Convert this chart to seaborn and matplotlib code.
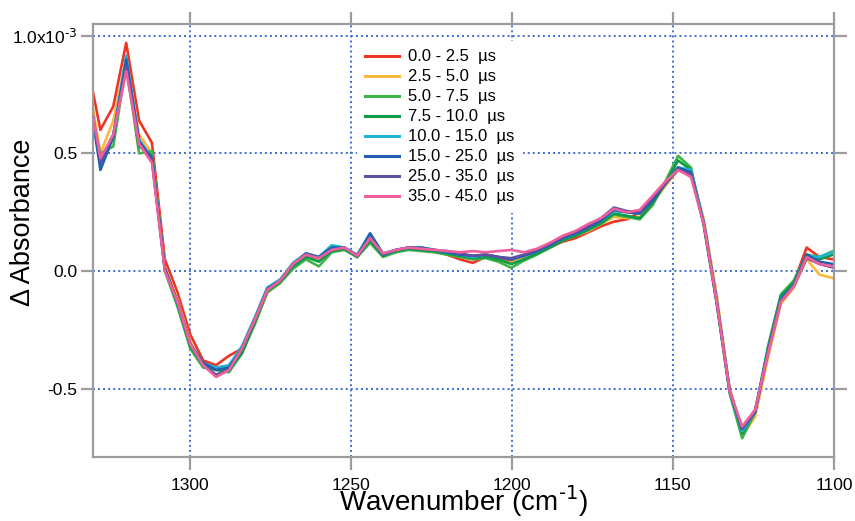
import numpy as np
import pandas as pd
import matplotlib
matplotlib.use("Agg")
import matplotlib.pyplot as plt
import seaborn as sns

plt.rcParams['font.family'] = ['Liberation Sans', 'DejaVu Sans']
plt.rcParams['mathtext.default'] = 'regular'

# ---- data (ΔAbsorbance in units of 1e-3) ----
wavenumber = [1330.0, 1327.7, 1323.7, 1319.7, 1315.7, 1311.7, 1307.7, 1303.8, 1299.8, 1295.8,
              1291.8, 1287.8, 1283.8, 1279.9, 1275.9, 1271.9, 1267.9, 1263.9, 1259.9, 1255.9,
              1252.0, 1248.0, 1244.0, 1240.0, 1236.0, 1232.0, 1228.1, 1224.1, 1220.1, 1216.1,
              1212.1, 1208.1, 1204.2, 1200.2, 1196.2, 1192.2, 1188.2, 1184.2, 1180.3, 1176.3,
              1172.3, 1168.3, 1164.3, 1160.3, 1156.3, 1152.4, 1148.4, 1144.4, 1140.4, 1136.4,
              1132.4, 1128.5, 1124.5, 1120.5, 1116.5, 1112.5, 1108.5, 1104.5, 1100.3]

labels = ["0.0 - 2.5  µs", "2.5 - 5.0  µs", "5.0 - 7.5  µs", "7.5 - 10.0  µs",
          "10.0 - 15.0  µs", "15.0 - 25.0  µs", "25.0 - 35.0  µs", "35.0 - 45.0  µs"]
colors = ["#ee3524", "#fdb93d", "#3cb44a", "#0f9a48", "#1fb5d8", "#2160ae", "#5e4fa2", "#ee5f9b"]

s_0_2p5 = [0.76, 0.60, 0.70, 0.97, 0.64, 0.545, 0.05, -0.09, -0.27, -0.38,
           -0.40, -0.36, -0.33, -0.22, -0.09, -0.05, 0.02, 0.06, 0.05, 0.09,
           0.10, 0.06, 0.13, 0.07, 0.08, 0.10, 0.09, 0.085, 0.07, 0.05,
           0.035, 0.06, 0.05, 0.04, 0.055, 0.075, 0.10, 0.125, 0.14, 0.165,
           0.19, 0.21, 0.22, 0.25, 0.30, 0.37, 0.44, 0.42, 0.20, -0.13,
           -0.50, -0.68, -0.61, -0.35, -0.12, -0.05, 0.10, 0.06, 0.05]
s_2p5_5 = [0.69, 0.50, 0.64, 0.90, 0.58, 0.50, 0.02, -0.12, -0.30, -0.40,
           -0.41, -0.42, -0.34, -0.23, -0.09, -0.045, 0.03, 0.065, 0.05, 0.085,
           0.095, 0.06, 0.13, 0.065, 0.085, 0.095, 0.09, 0.085, 0.075, 0.065,
           0.05, 0.06, 0.045, 0.035, 0.055, 0.075, 0.10, 0.13, 0.15, 0.17,
           0.20, 0.23, 0.225, 0.23, 0.29, 0.36, 0.43, 0.41, 0.22, -0.10,
           -0.50, -0.70, -0.62, -0.37, -0.14, -0.07, 0.05, -0.015, -0.03]
s_5_7p5 = [0.63, 0.50, 0.53, 0.88, 0.50, 0.51, 0.00, -0.15, -0.33, -0.41,
           -0.42, -0.43, -0.35, -0.23, -0.09, -0.05, 0.01, 0.05, 0.02, 0.08,
           0.09, 0.06, 0.12, 0.06, 0.08, 0.09, 0.085, 0.08, 0.07, 0.06,
           0.05, 0.055, 0.04, 0.014, 0.045, 0.07, 0.10, 0.13, 0.15, 0.175,
           0.20, 0.24, 0.23, 0.22, 0.28, 0.38, 0.49, 0.44, 0.19, -0.14,
           -0.52, -0.71, -0.60, -0.32, -0.10, -0.04, 0.07, 0.06, 0.085]
s_7p5_10 = [0.65, 0.46, 0.57, 0.88, 0.53, 0.49, 0.01, -0.14, -0.32, -0.40,
            -0.42, -0.42, -0.35, -0.22, -0.08, -0.045, 0.02, 0.06, 0.04, 0.085,
            0.095, 0.06, 0.13, 0.065, 0.085, 0.095, 0.09, 0.085, 0.075, 0.065,
            0.055, 0.06, 0.05, 0.03, 0.05, 0.075, 0.10, 0.13, 0.15, 0.175,
            0.205, 0.245, 0.235, 0.225, 0.29, 0.37, 0.47, 0.43, 0.20, -0.13,
            -0.51, -0.69, -0.60, -0.33, -0.105, -0.05, 0.07, 0.05, 0.07]
s_10_15 = [0.64, 0.46, 0.58, 0.915, 0.56, 0.48, 0.01, -0.13, -0.31, -0.39,
           -0.41, -0.40, -0.32, -0.20, -0.07, -0.035, 0.035, 0.075, 0.06, 0.11,
           0.10, 0.07, 0.16, 0.07, 0.09, 0.10, 0.10, 0.09, 0.08, 0.07,
           0.06, 0.07, 0.06, 0.05, 0.065, 0.085, 0.11, 0.14, 0.16, 0.185,
           0.215, 0.255, 0.25, 0.245, 0.31, 0.37, 0.44, 0.43, 0.21, -0.12,
           -0.51, -0.68, -0.60, -0.34, -0.12, -0.06, 0.065, 0.06, 0.08]
s_15_25 = [0.64, 0.43, 0.57, 0.90, 0.55, 0.48, 0.01, -0.13, -0.31, -0.39,
           -0.42, -0.41, -0.33, -0.21, -0.075, -0.04, 0.03, 0.075, 0.06, 0.10,
           0.10, 0.065, 0.16, 0.075, 0.09, 0.10, 0.10, 0.09, 0.08, 0.07,
           0.065, 0.07, 0.06, 0.05, 0.065, 0.085, 0.11, 0.14, 0.16, 0.185,
           0.215, 0.26, 0.25, 0.245, 0.30, 0.37, 0.44, 0.42, 0.20, -0.13,
           -0.51, -0.67, -0.59, -0.34, -0.12, -0.06, 0.07, 0.04, 0.03]
s_25_35 = [0.66, 0.46, 0.58, 0.87, 0.55, 0.47, 0.01, -0.13, -0.31, -0.40,
           -0.44, -0.42, -0.33, -0.21, -0.08, -0.04, 0.03, 0.07, 0.055, 0.09,
           0.10, 0.065, 0.14, 0.07, 0.09, 0.10, 0.095, 0.09, 0.085, 0.075,
           0.065, 0.07, 0.06, 0.055, 0.07, 0.09, 0.115, 0.145, 0.165, 0.19,
           0.225, 0.27, 0.255, 0.25, 0.31, 0.37, 0.43, 0.41, 0.20, -0.13,
           -0.51, -0.67, -0.60, -0.35, -0.13, -0.065, 0.055, 0.03, 0.015]
s_35_45 = [0.66, 0.48, 0.58, 0.85, 0.54, 0.46, 0.00, -0.13, -0.31, -0.40,
           -0.45, -0.42, -0.33, -0.21, -0.08, -0.04, 0.03, 0.07, 0.055, 0.09,
           0.10, 0.065, 0.14, 0.075, 0.09, 0.10, 0.095, 0.09, 0.085, 0.08,
           0.085, 0.08, 0.085, 0.09, 0.08, 0.095, 0.12, 0.15, 0.17, 0.20,
           0.225, 0.265, 0.25, 0.26, 0.32, 0.38, 0.43, 0.40, 0.20, -0.13,
           -0.51, -0.66, -0.59, -0.35, -0.13, -0.065, 0.06, 0.03, 0.02]

series = [s_0_2p5, s_2p5_5, s_5_7p5, s_7p5_10, s_10_15, s_15_25, s_25_35, s_35_45]

xticks = [1300, 1250, 1200, 1150, 1100]
xticklabels = ["1300", "1250", "1200", "1150", "1100"]
yticks = [-0.5, 0.0, 0.5, 1.0]
yticklabels = ["-0.5", "0.0", "0.5", r"1.0x10$^{\text{-3}}$"]

# ---- long-form table ----
frames = []
for lab, vals in zip(labels, series):
    frames.append(pd.DataFrame({"wavenumber": wavenumber, "dA": vals, "window": lab}))
df = pd.concat(frames, ignore_index=True)

# ---- figure ----
fig = plt.figure(figsize=(8.55, 5.21), dpi=100)
ax = fig.add_axes([93/855, 1-457/521, 741/855, 433/521])

sns.lineplot(data=df, x="wavenumber", y="dA", hue="window", hue_order=labels,
             palette=dict(zip(labels, colors)), sort=False, estimator=None,
             linewidth=1.9, ax=ax)

ax.set_xlim(1330, 1100)
ax.set_ylim(-0.79, 1.05)
ax.set_xticks(xticks)
ax.set_xticklabels(xticklabels)
ax.set_yticks(yticks)
ax.set_yticklabels(yticklabels)

grey = "#9c9c9c"
for sp in ax.spines.values():
    sp.set_color(grey)
    sp.set_linewidth(1.6)
ax.tick_params(axis="both", which="major", direction="out", length=9, width=1.6,
               color=grey, labelsize=12.5, top=True, right=True,
               labeltop=False, labelright=False)
ax.tick_params(axis="x", pad=6)
ax.tick_params(axis="y", pad=2)

ax.set_axisbelow(True)
ax.grid(True, color="#3f6fd1", linestyle=(0, (1.0, 1.6)), linewidth=1.4)

ax.set_xlabel(r"Wavenumber (cm$^{\text{-1}}$)", fontsize=20)
ax.set_ylabel("Δ Absorbance", fontsize=19.5)
ax.xaxis.set_label_coords(0.5, -0.061)
ax.yaxis.set_label_coords(-0.077, 0.543)

handles, labs = ax.get_legend_handles_labels()
leg = ax.legend(handles, labs, loc="upper left", bbox_to_anchor=(357/855, 1-41/521),
                bbox_transform=fig.transFigure, frameon=True, fancybox=False,
                facecolor="white", edgecolor="none", framealpha=1.0, fontsize=12,
                handlelength=2.0, handletextpad=0.55, labelspacing=0.3,
                borderpad=0.5, borderaxespad=0.0)
for line in leg.get_lines():
    line.set_linewidth(2.2)

fig.savefig("out.png", dpi=100)
